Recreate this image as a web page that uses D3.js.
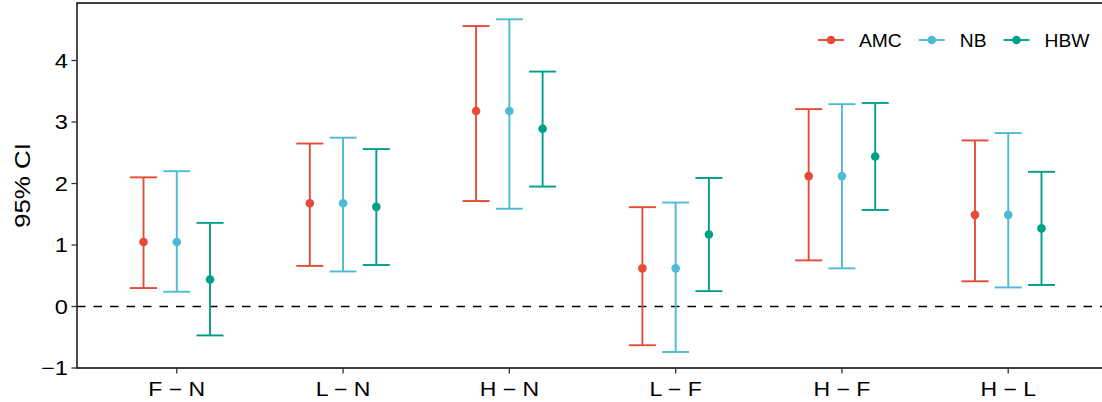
<!DOCTYPE html>
<html>
<head>
<meta charset="utf-8">
<script src="https://cdn.jsdelivr.net/npm/d3@7"></script>
<style>
html,body{margin:0;padding:0;background:#fff;}
svg{display:block;}
text{font-family:"Liberation Sans",Arial,Helvetica,sans-serif;fill:#000;}
</style>
</head>
<body>
<svg id="chart" width="1102" height="402"></svg>
<script>
const categories = ["F \u2212 N","L \u2212 N","H \u2212 N","L \u2212 F","H \u2212 F","H \u2212 L"];
const seriesNames = ["AMC","NB","HBW"];
const seriesColors = ["#E64B35","#4DBBD5","#00A087"];
const amcEst  = [1.05, 1.68, 3.18, 0.62, 2.12, 1.49];
const amcLow  = [0.30, 0.66, 1.715, -0.63, 0.75, 0.41];
const amcHigh = [2.10, 2.65, 4.56, 1.615, 3.21, 2.70];
const nbEst   = [1.05, 1.68, 3.18, 0.62, 2.12, 1.49];
const nbLow   = [0.24, 0.57, 1.59, -0.74, 0.62, 0.31];
const nbHigh  = [2.20, 2.745, 4.67, 1.69, 3.29, 2.82];
const hbwEst  = [0.44, 1.62, 2.89, 1.17, 2.44, 1.27];
const hbwLow  = [-0.47, 0.675, 1.95, 0.25, 1.57, 0.35];
const hbwHigh = [1.36, 2.56, 3.82, 2.09, 3.31, 2.19];
const yTicks = [-1, 0, 1, 2, 3, 4];
const yTitle = "95% CI";

const est = [amcEst, nbEst, hbwEst];
const low = [amcLow, nbLow, hbwLow];
const high = [amcHigh, nbHigh, hbwHigh];
const rows = [];
seriesNames.forEach((s, si) => categories.forEach((c, ci) => {
  rows.push({series: s, si, cat: c, est: est[si][ci], low: low[si][ci], high: high[si][ci]});
}));

const svg = d3.select("#chart");
const panel = {left: 77, right: 1108, top: 3, bottom: 368};

const x = d3.scalePoint().domain(categories).range([panel.left, panel.right]).padding(0.6);
const step = x.step();
const dodge = d3.scalePoint().domain(seriesNames).range([-0.2 * step, 0.2 * step]);
const y = d3.scaleLinear().domain([-1, 4.935]).range([panel.bottom, panel.top]);
const color = d3.scaleOrdinal().domain(seriesNames).range(seriesColors);
const capHalf = 13.5;
const textSX = 1.18;

// zero reference line
svg.append("line")
  .attr("x1", panel.left).attr("x2", 1102)
  .attr("y1", y(0)).attr("y2", y(0))
  .attr("stroke", "#000").attr("stroke-width", 1.3)
  .attr("stroke-dasharray", "8.5,8");

// error bars
const g = svg.append("g");
const bars = g.selectAll("g.bar").data(rows).join("g").attr("class", "bar")
  .attr("stroke", d => color(d.series)).attr("stroke-width", 1.9);
bars.append("line")
  .attr("x1", d => x(d.cat) + dodge(d.series)).attr("x2", d => x(d.cat) + dodge(d.series))
  .attr("y1", d => y(d.low)).attr("y2", d => y(d.high));
bars.append("line")
  .attr("x1", d => x(d.cat) + dodge(d.series) - capHalf).attr("x2", d => x(d.cat) + dodge(d.series) + capHalf)
  .attr("y1", d => y(d.high)).attr("y2", d => y(d.high));
bars.append("line")
  .attr("x1", d => x(d.cat) + dodge(d.series) - capHalf).attr("x2", d => x(d.cat) + dodge(d.series) + capHalf)
  .attr("y1", d => y(d.low)).attr("y2", d => y(d.low));
g.selectAll("circle").data(rows).join("circle")
  .attr("cx", d => x(d.cat) + dodge(d.series)).attr("cy", d => y(d.est))
  .attr("r", 4.3).attr("fill", d => color(d.series));

// panel border (left, top, bottom)
svg.append("path")
  .attr("d", `M1102,${panel.top}H${panel.left}V${panel.bottom}H1102`)
  .attr("fill", "none").attr("stroke", "#000").attr("stroke-width", 1.4);

// y axis ticks
const yAxis = svg.append("g");
yAxis.selectAll("line").data(yTicks).join("line")
  .attr("x1", panel.left - 5.5).attr("x2", panel.left)
  .attr("y1", d => y(d)).attr("y2", d => y(d))
  .attr("stroke", "#333").attr("stroke-width", 1.3);
yAxis.selectAll("text").data(yTicks).join("text")
  .attr("transform", d => `translate(${panel.left - 9},${y(d) + 7}) scale(${textSX},1)`)
  .attr("text-anchor", "end").style("font-size", "20px")
  .text(d => d < 0 ? "\u2212" + Math.abs(d) : d);

// x axis ticks
const xAxis = svg.append("g");
xAxis.selectAll("line").data(categories).join("line")
  .attr("x1", d => x(d)).attr("x2", d => x(d))
  .attr("y1", panel.bottom).attr("y2", panel.bottom + 5.5)
  .attr("stroke", "#333").attr("stroke-width", 1.3);
xAxis.selectAll("text").data(categories).join("text")
  .attr("transform", d => `translate(${x(d)},${panel.bottom + 28}) scale(${textSX},1)`)
  .attr("text-anchor", "middle").style("font-size", "19.5px")
  .text(d => d);

// y title
svg.append("text")
  .attr("transform", `translate(30,${(panel.top + panel.bottom) / 2}) rotate(-90) scale(${textSX},1)`)
  .attr("text-anchor", "middle").style("font-size", "22px")
  .text(yTitle);

// legend
const legend = svg.append("g");
let lx = 818;
const ly = 40;
seriesNames.forEach((s) => {
  const item = legend.append("g");
  item.append("line").attr("x1", lx).attr("x2", lx + 26).attr("y1", ly).attr("y2", ly)
    .attr("stroke", color(s)).attr("stroke-width", 1.9);
  item.append("circle").attr("cx", lx + 13).attr("cy", ly).attr("r", 4.3).attr("fill", color(s));
  const t = item.append("text")
    .attr("transform", `translate(${lx + 41},${ly + 6.5}) scale(1.07,1)`)
    .style("font-size", "18px").text(s);
  const w = t.node().getComputedTextLength() * 1.07;
  lx = lx + 41 + w + 17;
});
</script>
</body>
</html>
